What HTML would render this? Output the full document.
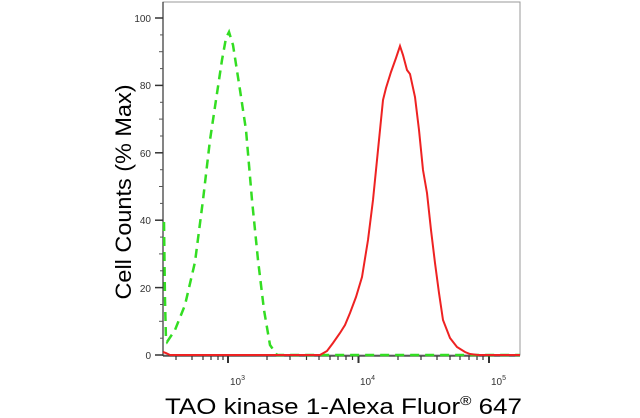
<!DOCTYPE html>
<html><head><style>
html,body{margin:0;padding:0;background:#fff;width:640px;height:418px;overflow:hidden}
svg{display:block}
</style></head><body>
<svg width="640" height="418" viewBox="0 0 640 418" font-family="Liberation Sans, sans-serif">
<rect x="163" y="2" width="357" height="353" fill="none" stroke="#999" stroke-width="1"/>
<line x1="163" y1="2" x2="163" y2="356" stroke="#333" stroke-width="1.2"/>
<line x1="163" y1="356" x2="520" y2="356" stroke="#333" stroke-width="1.2"/>
<g stroke="#333" stroke-width="1.5">
<line x1="155" y1="18" x2="163" y2="18"/><line x1="155" y1="85.4" x2="163" y2="85.4"/>
<line x1="155" y1="152.8" x2="163" y2="152.8"/><line x1="155" y1="220.2" x2="163" y2="220.2"/>
<line x1="155" y1="287.6" x2="163" y2="287.6"/><line x1="155" y1="355" x2="163" y2="355"/>
</g>
<g stroke="#555" stroke-width="1">
<line x1="159" y1="51.7" x2="163" y2="51.7"/><line x1="159" y1="119.1" x2="163" y2="119.1"/>
<line x1="159" y1="186.5" x2="163" y2="186.5"/><line x1="159" y1="253.9" x2="163" y2="253.9"/>
<line x1="159" y1="321.3" x2="163" y2="321.3"/>
<line x1="160" y1="34.9" x2="163" y2="34.9"/><line x1="160" y1="68.6" x2="163" y2="68.6"/>
<line x1="160" y1="102.3" x2="163" y2="102.3"/><line x1="160" y1="136" x2="163" y2="136"/>
<line x1="160" y1="169.7" x2="163" y2="169.7"/><line x1="160" y1="203.4" x2="163" y2="203.4"/>
<line x1="160" y1="237.1" x2="163" y2="237.1"/><line x1="160" y1="270.8" x2="163" y2="270.8"/>
<line x1="160" y1="304.5" x2="163" y2="304.5"/><line x1="160" y1="338.2" x2="163" y2="338.2"/>
</g>
<g font-size="10" fill="#333" text-anchor="end">
<text x="151" y="22">100</text><text x="151" y="89">80</text><text x="151" y="157">60</text>
<text x="151" y="224">40</text><text x="151" y="292">20</text><text x="151" y="359">0</text>
</g>
<g stroke="#333" stroke-width="1.2">
<line x1="228" y1="356" x2="228" y2="363" stroke-width="2"/>
<line x1="358.5" y1="356" x2="358.5" y2="363" stroke-width="2"/>
<line x1="489" y1="356" x2="489" y2="363" stroke-width="2"/>
<line x1="176" y1="356" x2="176" y2="360"/><line x1="192" y1="356" x2="192" y2="360"/>
<line x1="203" y1="356" x2="203" y2="360"/><line x1="211" y1="356" x2="211" y2="360"/>
<line x1="218" y1="356" x2="218" y2="360"/><line x1="223" y1="356" x2="223" y2="360"/>
<line x1="267" y1="356" x2="267" y2="360"/><line x1="290" y1="356" x2="290" y2="360"/>
<line x1="306.5" y1="356" x2="306.5" y2="360"/><line x1="319" y1="356" x2="319" y2="360"/>
<line x1="330" y1="356" x2="330" y2="360"/><line x1="338" y1="356" x2="338" y2="360"/>
<line x1="346" y1="356" x2="346" y2="360"/><line x1="352.5" y1="356" x2="352.5" y2="360"/>
<line x1="398" y1="356" x2="398" y2="360"/><line x1="421" y1="356" x2="421" y2="360"/>
<line x1="437" y1="356" x2="437" y2="360"/><line x1="450" y1="356" x2="450" y2="360"/>
<line x1="460" y1="356" x2="460" y2="360"/><line x1="469" y1="356" x2="469" y2="360"/>
<line x1="477" y1="356" x2="477" y2="360"/><line x1="483" y1="356" x2="483" y2="360"/>
</g>
<g font-size="10" fill="#333">
<text x="230" y="385">10<tspan font-size="7" dy="-5">3</tspan></text>
<text x="360" y="385">10<tspan font-size="7" dy="-5">4</tspan></text>
<text x="491" y="385">10<tspan font-size="7" dy="-5">5</tspan></text>
</g>
<path d="M164,222 L165,300 L166,340 L167,342 L175,330 L185,305 L195,262 L203,200 L210,140 L216,100 L222,60 L226,38 L229,32 L233,45 L240,90 L246,130 L252,200 L258,260 L264,310 L270,345 L277,355 L520,355" fill="none" stroke="#33dd22" stroke-width="2.5" stroke-dasharray="9,6"/>
<path d="M163,352 L166,353 L170,355 L320,355 L327,351 L333,343 L340,333 L345,325 L350,313 L356,297 L362,277 L368,240 L373,200 L378,150 L383,100 L386,88 L391,72 L396,58 L400,46 L403,55 L407,70 L410,74 L415,97 L419,130 L423,170 L427,193 L431,230 L435,263 L439,293 L443,320 L450,338 L457,347 L465,352 L470,354 L478,355 L520,355" fill="none" stroke="#ee2222" stroke-width="2"/>
<text transform="translate(131,192) rotate(-90)" font-size="22" text-anchor="middle" textLength="215" lengthAdjust="spacingAndGlyphs" fill="#000">Cell Counts (% Max)</text>
<text transform="translate(165,414) scale(1.18,1)" font-size="22" fill="#000">TAO kinase 1-Alexa Fluor<tspan font-size="13" dy="-9">®</tspan><tspan dy="9"> 647</tspan></text>
</svg>
</body></html>
